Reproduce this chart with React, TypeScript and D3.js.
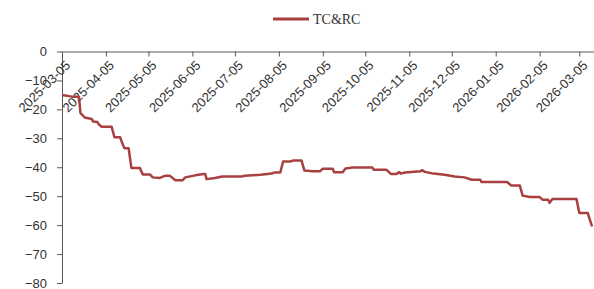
import React, { useEffect, useRef } from "react";
import * as d3 from "d3";

// TC&RC series
const dates = [
  "2025-03-05", "2025-03-12", "2025-03-17", "2025-03-18", "2025-03-21", "2025-03-26",
  "2025-03-27", "2025-03-30", "2025-03-31", "2025-04-02", "2025-04-09", "2025-04-11",
  "2025-04-15", "2025-04-16", "2025-04-18", "2025-04-21", "2025-04-23", "2025-04-29",
  "2025-05-01", "2025-05-06", "2025-05-08", "2025-05-13", "2025-05-17", "2025-05-20",
  "2025-05-24", "2025-05-29", "2025-05-31", "2025-06-07", "2025-06-13", "2025-06-14",
  "2025-06-15", "2025-06-21", "2025-06-26", "2025-07-10", "2025-07-12", "2025-07-23",
  "2025-07-31", "2025-08-02", "2025-08-06", "2025-08-08", "2025-08-13", "2025-08-15",
  "2025-08-21", "2025-08-23", "2025-08-29", "2025-09-03", "2025-09-05", "2025-09-12",
  "2025-09-13", "2025-09-19", "2025-09-21", "2025-09-26", "2025-10-10", "2025-10-11",
  "2025-10-20", "2025-10-23", "2025-10-27", "2025-10-29", "2025-10-30", "2025-11-02",
  "2025-11-13", "2025-11-14", "2025-11-16", "2025-11-22", "2025-11-30", "2025-12-07",
  "2025-12-14", "2025-12-19", "2025-12-25", "2025-12-26", "2026-01-13", "2026-01-16",
  "2026-01-22", "2026-01-24", "2026-01-29", "2026-02-05", "2026-02-07", "2026-02-11",
  "2026-02-12", "2026-02-14", "2026-03-03", "2026-03-05", "2026-03-11", "2026-03-12",
  "2026-03-14",
];
const values = [
  -15.0, -15.6, -15.6, -21.2, -22.8, -23.3,
  -24.2, -24.4, -25.2, -26.0, -26.0, -29.6,
  -29.6, -31.0, -33.4, -33.4, -40.3, -40.3,
  -42.5, -42.5, -43.5, -43.7, -42.9, -42.9,
  -44.5, -44.5, -43.5, -42.8, -42.3, -42.3,
  -44.1, -43.7, -43.2, -43.2, -42.9, -42.6,
  -42.2, -41.8, -41.8, -38.0, -38.0, -37.7,
  -37.7, -41.1, -41.4, -41.4, -40.5, -40.5,
  -41.7, -41.7, -40.4, -40.1, -40.1, -40.9,
  -40.9, -42.3, -42.3, -41.7, -42.2, -41.8,
  -41.4, -41.0, -41.6, -42.2, -42.6, -43.2,
  -43.5, -44.3, -44.3, -45.1, -45.1, -46.3,
  -46.3, -49.8, -50.3, -50.3, -51.2, -51.2,
  -52.3, -51.0, -51.0, -55.8, -55.8, -57.5,
  -60.4,
];
const xTicks = [
  "2025-03-05", "2025-04-05", "2025-05-05", "2025-06-05", "2025-07-05", "2025-08-05",
  "2025-09-05", "2025-10-05", "2025-11-05", "2025-12-05", "2026-01-05", "2026-02-05",
  "2026-03-05",
];
const yTicks = [0, -10, -20, -30, -40, -50, -60, -70, -80];

function drawChart(container: HTMLDivElement) {
  const width = 594,
    height = 289;
  const left = 62,
    right = 593.5,
    top = 51.5,
    bottom = 283;
  const lineColor = "#A8403F",
    axisColor = "#595959",
    textColor = "#333333";

  d3.select(container).selectAll("svg").remove();
  const svg = d3
    .select(container)
    .append("svg")
    .attr("width", width)
    .attr("height", height)
    .style("display", "block");

  const parse = d3.utcParse("%Y-%m-%d");
  const x = d3
    .scaleUtc()
    .domain([parse("2025-03-05")!, parse("2026-03-15")!])
    .range([left, right]);
  const y = d3.scaleLinear().domain([-80, 0]).range([bottom, top]);

  // y axis on the left
  const yAxis = svg
    .append("g")
    .attr("transform", `translate(${left},0)`)
    .call(
      d3
        .axisLeft(y)
        .tickValues(yTicks)
        .tickSizeInner(5)
        .tickSizeOuter(0)
        .tickFormat(d3.format("d"))
    );
  yAxis.select("path").style("stroke", axisColor);
  yAxis.selectAll(".tick line").style("stroke", axisColor);
  yAxis
    .selectAll(".tick text")
    .attr("x", -15)
    .style("fill", textColor)
    .style("font-family", "Liberation Sans, Arial, sans-serif")
    .style("font-size", "13px");

  // x axis along the zero line, labels slanted
  const xAxis = svg
    .append("g")
    .attr("transform", `translate(0,${y(0)})`)
    .call(
      d3
        .axisBottom(x)
        .tickValues(xTicks.map((d) => parse(d)!))
        .tickSizeInner(5)
        .tickSizeOuter(0)
        .tickFormat(d3.utcFormat("%Y-%m-%d") as any)
    );
  xAxis.select("path").style("stroke", axisColor);
  xAxis.selectAll(".tick line").style("stroke", axisColor);
  xAxis
    .selectAll(".tick text")
    .attr("x", 0)
    .attr("y", 0)
    .attr("dy", "0.71em")
    .attr("transform", "translate(2,8) rotate(-45)")
    .style("text-anchor", "end")
    .style("fill", textColor)
    .style("font-family", "Liberation Sans, Arial, sans-serif")
    .style("font-size", "13px");

  // series line
  const points = dates.map((d, i) => ({ date: parse(d)!, value: values[i] }));
  const line = d3
    .line<{ date: Date; value: number }>()
    .x((d) => x(d.date))
    .y((d) => y(d.value));
  svg
    .append("path")
    .datum(points)
    .attr("d", line)
    .style("fill", "none")
    .style("stroke", lineColor)
    .style("stroke-width", "2.5px")
    .style("stroke-linejoin", "round");

  // legend
  const legend = svg.append("g").attr("transform", "translate(273,19)");
  legend
    .append("line")
    .attr("x1", 0)
    .attr("x2", 36)
    .attr("y1", 0)
    .attr("y2", 0)
    .style("stroke", lineColor)
    .style("stroke-width", "3px");
  legend
    .append("text")
    .attr("x", 40)
    .attr("y", 5)
    .text("TC&RC")
    .style("fill", textColor)
    .style("font-family", "Liberation Serif, Times New Roman, serif")
    .style("font-size", "14px");
}

export default function App() {
  const ref = useRef<HTMLDivElement>(null);
  useEffect(() => {
    if (ref.current) drawChart(ref.current);
  }, []);
  return <div ref={ref} style={{ position: "absolute", left: 0, top: 0 }} />;
}
